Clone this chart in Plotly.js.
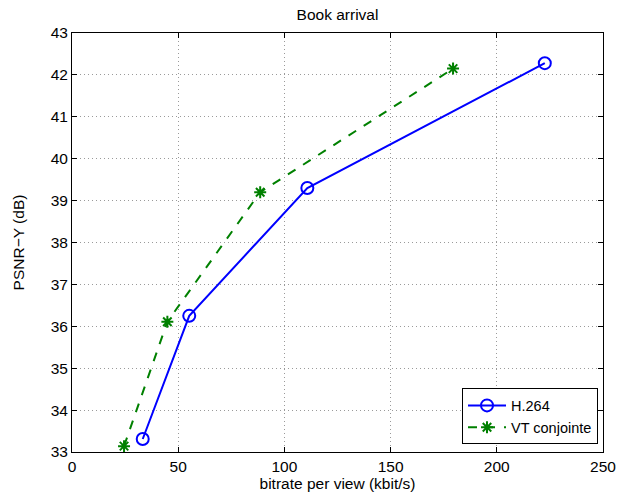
<!DOCTYPE html>
<html>
<head>
<meta charset="utf-8">
<script src="https://cdn.plot.ly/plotly-3.0.1.min.js"></script>
<style>html,body{margin:0;padding:0;background:#fff;}#chart{width:617px;height:494px;}</style>
</head>
<body>
<div id="chart"></div>
<script>
const h264Bitrate = [33.3, 55.2, 110.8, 222.6];
const h264Psnr = [33.31, 36.25, 39.3, 42.28];
const vtBitrate = [24.5, 44.9, 88.6, 179.4];
const vtPsnr = [33.14, 36.11, 39.2, 42.15];
const xTicks = [0, 50, 100, 150, 200, 250];
const yTicks = [33, 34, 35, 36, 37, 38, 39, 40, 41, 42, 43];

const font = {family: 'Liberation Sans, Arial, sans-serif', size: 15.5, color: '#000'};
const legendFont = {family: 'Liberation Sans, Arial, sans-serif', size: 14.5, color: '#000'};

const traces = [
  {
    x: h264Bitrate, y: h264Psnr, name: 'H.264', mode: 'lines+markers',
    line: {color: '#0000ff', width: 2},
    marker: {symbol: 'circle-open', size: 12, color: '#0000ff', line: {width: 2, color: '#0000ff'}}
  },
  {
    x: vtBitrate, y: vtPsnr, name: 'VT conjointe', mode: 'lines+markers',
    line: {color: '#008000', width: 2, dash: 'dash'},
    marker: {symbol: 'asterisk-open', size: 10, color: '#008000', line: {width: 2, color: '#008000'}}
  }
];

const axisCommon = {
  showline: true, linecolor: '#000', linewidth: 1, mirror: 'ticks',
  ticks: 'inside', ticklen: 5, tickcolor: '#000',
  showgrid: true, gridcolor: '#9a9a9a', griddash: '1px,3px', gridwidth: 1,
  zeroline: false, tickfont: font
};

const layout = {
  width: 617, height: 494,
  margin: {l: 72, r: 14, t: 33, b: 42},
  paper_bgcolor: '#fff', plot_bgcolor: '#fff',
  font: font,
  title: {text: 'Book arrival', font: font, x: 0.5, xref: 'paper', y: 1, yref: 'container', yanchor: 'top', pad: {t: 9}},
  xaxis: Object.assign({}, axisCommon, {
    range: [0, 250], tickvals: xTicks, ticktext: xTicks.map(String),
    title: {text: 'bitrate per view (kbit/s)', font: font, standoff: 0}
  }),
  yaxis: Object.assign({}, axisCommon, {
    range: [33, 43], tickvals: yTicks, ticktext: yTicks.map(String),
    title: {text: 'PSNR\u2212Y (dB)', font: font, standoff: 22}
  }),
  showlegend: true,
  legend: {
    x: 0.9906, xanchor: 'right', y: 0.018, yanchor: 'bottom',
    bgcolor: '#fff', bordercolor: '#000', borderwidth: 1,
    font: legendFont, tracegroupgap: 0, itemwidth: 38
  }
};

Plotly.newPlot('chart', traces, layout, {displayModeBar: false, staticPlot: true});
</script>
</body>
</html>
